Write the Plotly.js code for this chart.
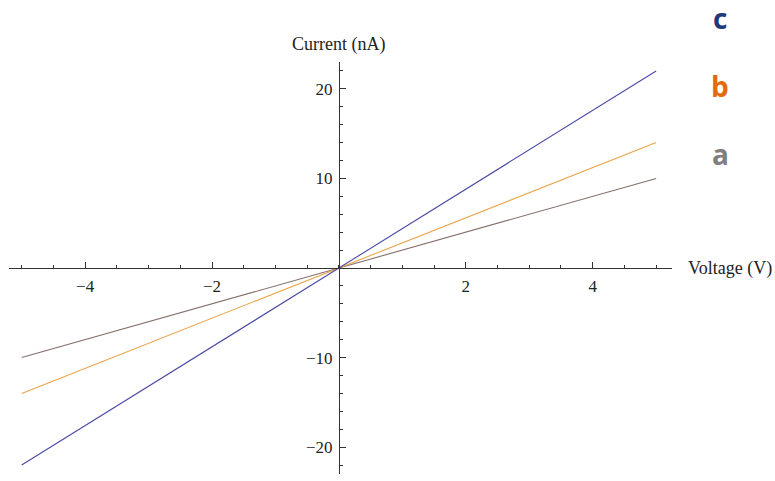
<!DOCTYPE html>
<html>
<head>
<meta charset="utf-8">
<script src="https://cdn.plot.ly/plotly-3.0.1.min.js"></script>
<style>
  html, body { margin: 0; padding: 0; background: #fff; }
  #plot { width: 775px; height: 481px; }
</style>
</head>
<body>
<div id="plot"></div>
<script>
// I–V curves for three ohmic devices
const voltage = [-5, 0, 5];
const currentA = [-10, 0, 10];
const currentB = [-14, 0, 14];
const currentC = [-22, 0, 22];

const seriesNames = ['a', 'b', 'c'];
const seriesColors = ['#85706a', '#e9a448', '#4a4aa6'];
const labelColors = ['#7f7f7f', '#e36c0a', '#1f3a78'];

const xTicks = [-4, -2, 2, 4];
const yTicks = [-20, -10, 10, 20];
const xRange = [-5.2, 5.25];
const yRange = [-23, 23];

const traces = [currentA, currentB, currentC].map((cur, i) => ({
  x: voltage, y: cur, type: 'scatter', mode: 'lines', name: seriesNames[i],
  line: { color: seriesColors[i], width: 1.1 }, hoverinfo: 'skip'
}));

const serif = 'Liberation Serif, Times New Roman, serif';
const tickFont = { family: serif, size: 17, color: '#222' };

const layout = {
  width: 775, height: 481,
  margin: { l: 9, r: 103, t: 62, b: 7 },
  paper_bgcolor: '#fff', plot_bgcolor: '#fff',
  showlegend: false,
  xaxis: {
    range: xRange, anchor: 'free', position: 0.5,
    showgrid: false, zeroline: false,
    showline: true, linecolor: '#333', linewidth: 1,
    tickmode: 'array', tickvals: xTicks,
    ticks: 'inside', ticklen: 6, tickcolor: '#333',
    tickfont: tickFont, ticklabelstandoff: 3,
    minor: { dtick: 0.5, tick0: 0, ticks: 'inside', ticklen: 3.5, tickcolor: '#333', showgrid: false }
  },
  yaxis: {
    range: yRange, anchor: 'free',
    position: (0 - xRange[0]) / (xRange[1] - xRange[0]),
    showgrid: false, zeroline: false,
    showline: true, linecolor: '#333', linewidth: 1,
    tickmode: 'array', tickvals: yTicks,
    ticks: 'inside', ticklen: 6, tickcolor: '#333',
    tickfont: tickFont, ticklabelstandoff: 3,
    minor: { dtick: 2, tick0: 0, ticks: 'inside', ticklen: 3.5, tickcolor: '#333', showgrid: false }
  },
  annotations: [
    { text: 'Current (nA)', xref: 'x', yref: 'paper', x: 0, y: 1, yshift: 18,
      showarrow: false, xanchor: 'center', yanchor: 'middle',
      font: { family: serif, size: 18, color: '#222' } },
    { text: 'Voltage (V)', xref: 'paper', yref: 'y', x: 1, y: 0, xshift: 14,
      showarrow: false, xanchor: 'left', yanchor: 'middle',
      font: { family: serif, size: 18, color: '#222' } }
  ].concat(['c', 'b', 'a'].map((s, k) => ({
    text: '<b>' + s + '</b>', xref: 'paper', yref: 'paper',
    x: 1, xshift: 48, y: 1, yshift: 44 - k * 68,
    showarrow: false, xanchor: 'center', yanchor: 'middle',
    font: { family: 'Open Sans, Lato, sans-serif', size: 28,
            color: labelColors[seriesNames.indexOf(s)] }
  })))
};

Plotly.newPlot('plot', traces, layout, { displayModeBar: false, staticPlot: true });
</script>
</body>
</html>
